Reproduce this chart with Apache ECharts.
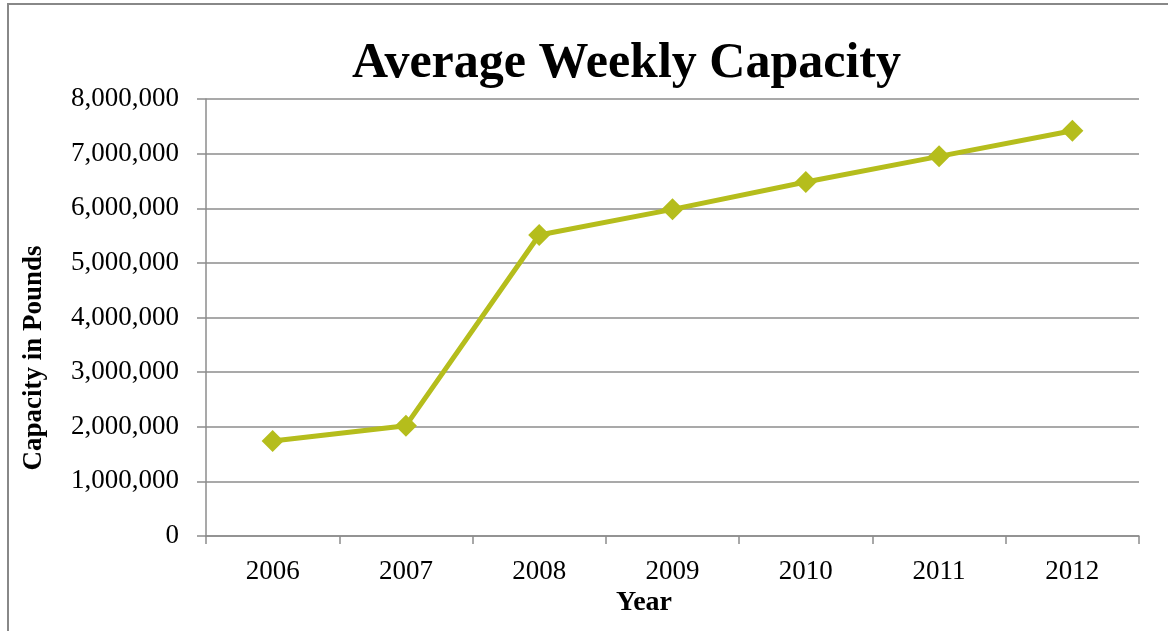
<!DOCTYPE html>
<html>
<head>
<meta charset="utf-8">
<title>Average Weekly Capacity</title>
<script src="https://cdn.jsdelivr.net/npm/echarts@6/dist/echarts.min.js"></script>
<style>
  html, body { margin: 0; padding: 0; background: #fff; }
  #chart { width: 1168px; height: 631px; }
</style>
</head>
<body>
<div id="chart"></div>
<script>
// years on the x axis
var years = ["2006", "2007", "2008", "2009", "2010", "2011", "2012"];
// average weekly capacity, pounds
var capacity = [1740000, 2020000, 5510000, 5980000, 6480000, 6950000, 7420000];

var serif = "Liberation Serif";
var gridGrey = "#8c8c8c";
var lineColor = "#b5bd1c";

var chart = echarts.init(document.getElementById("chart"));

var option = {
  animation: false,
  title: {
    text: "Average Weekly Capacity",
    left: 347,
    top: 34,
    textStyle: {
      fontFamily: serif,
      fontWeight: "bold",
      fontSize: 50,
      color: "#000"
    }
  },
  grid: {
    left: 206,
    right: 29,
    top: 99,
    bottom: 95
  },
  xAxis: {
    type: "category",
    data: years,
    boundaryGap: true,
    axisLine: { lineStyle: { color: gridGrey, width: 1.5 } },
    axisTick: { show: true, length: 8, interval: 0, lineStyle: { color: gridGrey, width: 1.5 } },
    axisLabel: {
      margin: 22,
      fontFamily: serif,
      fontSize: 27,
      color: "#000"
    }
  },
  yAxis: {
    type: "value",
    min: 0,
    max: 8000000,
    interval: 1000000,
    axisLine: { show: true, lineStyle: { color: gridGrey, width: 1.5 } },
    axisTick: { show: true, length: 9, lineStyle: { color: gridGrey, width: 1.5 } },
    splitLine: { lineStyle: { color: gridGrey, width: 1.5 } },
    axisLabel: {
      margin: 27,
      fontFamily: serif,
      fontSize: 27,
      color: "#000",
      formatter: function (v) {
        return v.toLocaleString("en-US");
      }
    }
  },
  graphic: [
    {
      // outer chart frame (only left and top edges fall inside the picture)
      type: "rect",
      shape: { x: 8, y: 4, width: 1300, height: 800 },
      style: { fill: "none", stroke: "#888", lineWidth: 2 },
      silent: true
    },
    {
      type: "text",
      x: 34,
      y: 358,
      rotation: Math.PI / 2,
      style: {
        text: "Capacity in Pounds",
        fontFamily: serif,
        fontWeight: "bold",
        fontSize: 27,
        fill: "#000",
        align: "center",
        verticalAlign: "middle"
      }
    },
    {
      type: "text",
      x: 644,
      y: 603,
      style: {
        text: "Year",
        fontFamily: serif,
        fontWeight: "bold",
        fontSize: 28,
        fill: "#000",
        align: "center",
        verticalAlign: "middle"
      }
    }
  ],
  series: [
    {
      type: "line",
      data: capacity,
      symbol: "diamond",
      symbolSize: 22,
      showSymbol: true,
      lineStyle: { color: lineColor, width: 5 },
      itemStyle: { color: lineColor }
    }
  ]
};

chart.setOption(option);
</script>
</body>
</html>
